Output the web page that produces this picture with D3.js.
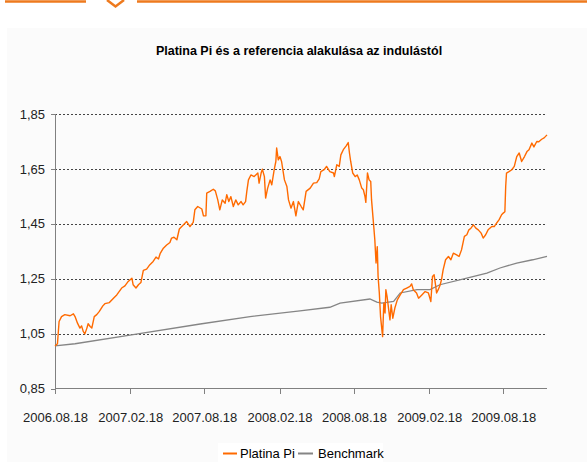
<!DOCTYPE html>
<html>
<head>
<meta charset="utf-8">
<title>Platina Pi</title>
<script src="https://d3js.org/d3.v7.min.js"></script>
<style>
  body { margin:0; background:#fff; }
  .axis path, .axis line { fill:none; stroke:#808080; shape-rendering:crispEdges; }
  .axis text { font-family:"Liberation Sans", Arial, sans-serif; font-size:13px; fill:#222; }
  .grid line { stroke:#444; stroke-dasharray:2,2; shape-rendering:crispEdges; }
  .grid path { display:none; }
</style>
</head>
<body>
<svg id="chart" width="587" height="462"></svg>
<script>
// induló dátum, napok a kezdéstől
const kezdet = "2006.08.18";
const vege = "2009.12.03";
const xTickLabels = ["2006.08.18","2007.02.18","2007.08.18","2008.02.18","2008.08.18","2009.02.18","2009.08.18"];
const yTicks = [0.85, 1.05, 1.25, 1.45, 1.65, 1.85];

const platinaNap = [0,6,10,16,24,37,45,49,55,61,65,69,73,78,81,86,90,96,102,108,117,122,133,143,151,163,171,179,188,191,198,204,210,216,224,232,240,247,253,257,265,273,281,285,291,298,304,
  310,322,330,338,342,349,359,363,369,371,379,387,392,398,403,409,416,420,425,430,436,442,448,455,460,466,469,473,479,487,496,499,504,507,512,515,520,526,530,536,540,542,546,550,554,561,567,571,577,583,589,595,602,607,
  614,624,632,640,646,650,658,664,672,681,683,689,695,699,705,712,717,720,723,728,734,739,744,750,754,758,760,764,768,772,774,778,782,785,788,790,793,796,801,804,807,809,812,819,822,826,831,837,844,852,860,868,872,876,884,
  889,897,905,913,919,923,927,931,933,937,941,945,949,955,962,968,974,982,988,994,1001,1007,1012,1017,1023,1029,1035,1042,1047,1053,1059,1068,1074,1080,1086,1092,1096,1100,1102,1104,1110,1117,1123,1129,1135,1141,1148,1154,1159,1166,1171,1178,1183,1190,1196,1203];
const platinaErtek = [1.005,1.013,1.094,1.112,1.119,1.115,1.122,1.112,1.088,1.070,1.078,1.058,1.049,1.070,1.086,1.076,1.070,1.112,1.119,1.130,1.151,1.159,1.163,1.179,1.191,1.216,1.224,1.240,1.252,1.228,1.216,1.228,1.236,1.280,1.285,1.301,1.313,1.329,1.322,1.341,1.361,1.373,1.382,1.398,1.401,1.392,1.431,
  1.440,1.458,1.440,1.455,1.501,1.513,1.504,1.479,1.479,1.562,1.568,1.576,1.570,1.537,1.501,1.537,1.525,1.556,1.531,1.549,1.513,1.537,1.519,1.531,1.519,1.531,1.568,1.610,1.628,1.622,1.635,1.598,1.635,1.649,1.622,1.544,1.580,1.610,1.592,1.647,1.677,1.726,1.683,1.695,1.677,1.610,1.586,1.537,1.507,1.531,1.479,1.531,1.513,1.501,
  1.568,1.580,1.598,1.600,1.614,1.640,1.647,1.659,1.640,1.635,1.622,1.665,1.659,1.701,1.720,1.734,1.746,1.708,1.677,1.635,1.622,1.628,1.610,1.580,1.574,1.549,1.528,1.635,1.610,1.604,1.537,1.465,1.392,1.307,1.367,1.258,1.198,1.112,1.039,1.161,1.125,1.210,1.185,1.100,1.155,1.106,1.143,1.173,1.191,1.210,1.216,1.222,1.231,1.210,1.198,
  1.179,1.191,1.203,1.198,1.167,1.258,1.264,1.222,1.198,1.210,1.224,1.246,1.282,1.319,1.331,1.319,1.343,1.337,1.331,1.355,1.404,1.410,1.428,1.434,1.446,1.434,1.428,1.416,1.398,1.410,1.428,1.440,1.440,1.453,1.465,1.483,1.489,1.494,1.586,1.635,1.640,1.647,1.659,1.695,1.708,1.677,1.695,1.713,1.720,1.744,1.730,1.750,1.749,1.758,1.763,1.774];

const benchNap = [0,49,191,355,477,599,672,697,770,787,799,828,844,885,917,941,1007,1056,1088,1129,1168,1203];
const benchErtek = [1.005,1.013,1.046,1.085,1.112,1.133,1.146,1.161,1.176,1.165,1.161,1.167,1.198,1.210,1.210,1.228,1.252,1.270,1.289,1.307,1.319,1.331];

const svg = d3.select("#chart");
const parse = d3.timeParse("%Y.%m.%d");
const start = parse(kezdet);

// háttér és fejléc
svg.append("rect").attr("x",7).attr("y",28).attr("width",580).attr("height",434).attr("fill","#fbfbfb");
const narancs = "#ee7a1e";
svg.append("line").attr("x1",5).attr("x2",86).attr("y1",1.5).attr("y2",1.5).attr("stroke",narancs).attr("stroke-width",2.5);
svg.append("line").attr("x1",137).attr("x2",587).attr("y1",1.5).attr("y2",1.5).attr("stroke",narancs).attr("stroke-width",2.5);
svg.append("path").attr("d","M107,0 L115.5,6.5 L124,0").attr("fill","none").attr("stroke",narancs).attr("stroke-width",2.5);

const x = d3.scaleTime().domain([start, parse(vege)]).range([55, 547]);
const y = d3.scaleLinear().domain([0.85, 1.85]).range([388.5, 114]);

svg.append("text").attr("x",299).attr("y",55).attr("text-anchor","middle")
  .style("font-family","'Liberation Sans', Arial, sans-serif").style("font-size","12.5px").style("font-weight","bold")
  .text("Platina Pi és a referencia alakulása az indulástól");

// rácsvonalak
svg.append("g").attr("class","grid").attr("transform","translate(55,0)")
  .call(d3.axisLeft(y).tickValues(yTicks.slice(1)).tickSize(-492).tickFormat(""));

const comma = d3.format(".2f");
svg.append("g").attr("class","axis").attr("transform","translate(55,0)")
  .call(d3.axisLeft(y).tickValues(yTicks).tickSize(4).tickPadding(6).tickFormat(d => comma(d).replace(".", ",")));

svg.append("g").attr("class","axis").attr("transform","translate(0,388.5)")
  .call(d3.axisBottom(x).tickValues(xTickLabels.map(parse)).tickSize(5).tickPadding(19).tickFormat(d3.timeFormat("%Y.%m.%d")))
  .call(g => g.select(".domain").attr("d","M55,0H547"));

const line = d3.line().x(d => x(d3.timeDay.offset(start, d[0]))).y(d => y(d[1]));

svg.append("path").datum(benchNap.map((d,i) => [d, benchErtek[i]]))
  .attr("d", line).attr("fill","none").attr("stroke","#858585").attr("stroke-width",1.3);
svg.append("path").datum(platinaNap.map((d,i) => [d, platinaErtek[i]]))
  .attr("d", line).attr("fill","none").attr("stroke","#ff6a00").attr("stroke-width",1.4).attr("stroke-linejoin","round");

// jelmagyarázat
const leg = svg.append("g").style("font-family","'Liberation Sans', Arial, sans-serif").style("font-size","13px");
leg.append("rect").attr("x",218).attr("y",443).attr("width",165).attr("height",19).attr("fill","#fff");
leg.append("line").attr("x1",223).attr("x2",237).attr("y1",453.5).attr("y2",453.5).attr("stroke","#ff6a00").attr("stroke-width",2);
leg.append("text").attr("x",240).attr("y",458).text("Platina Pi");
leg.append("line").attr("x1",298).attr("x2",313).attr("y1",453.5).attr("y2",453.5).attr("stroke","#858585").attr("stroke-width",2);
leg.append("text").attr("x",318).attr("y",458).text("Benchmark");
</script>
</body>
</html>
